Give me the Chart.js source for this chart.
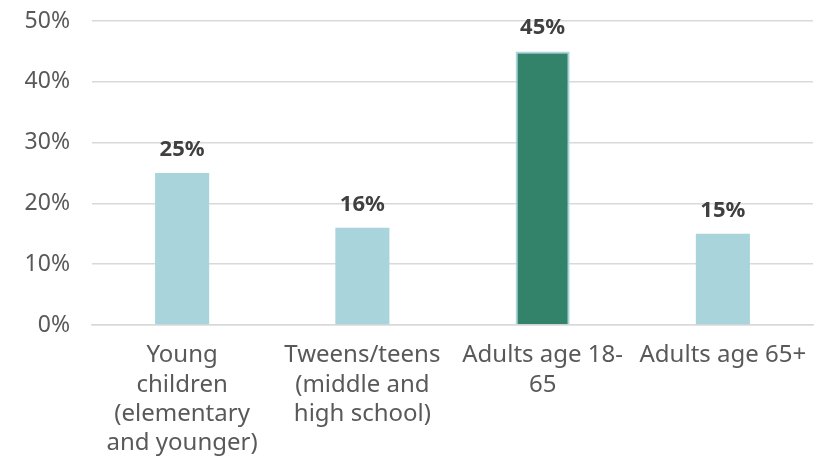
<!DOCTYPE html>
<html>
<head>
<meta charset="utf-8">
<script src="https://cdn.jsdelivr.net/npm/chart.js@4"></script>
<style>
  html, body { margin: 0; padding: 0; background: #fff; }
  #wrap { width: 831px; height: 457px; }
</style>
</head>
<body>
<div id="wrap"><canvas id="my-chart"></canvas></div>
<script>
// data
var categories = [
  ['Young', 'children', '(elementary', 'and younger)'],
  ['Tweens/teens', '(middle and', 'high school)'],
  ['Adults age 18-', '65'],
  ['Adults age 65+']
];
var shares = [25, 16, 45, 15];
var barColors = ['#A9D4DB', '#A9D4DB', '#33836A', '#A9D4DB'];
var yTicks = [0, 10, 20, 30, 40, 50];

// value labels above the bars
var valueLabels = {
  id: 'valueLabels',
  afterDatasetsDraw: function (chart) {
    var ctx = chart.ctx;
    var meta = chart.getDatasetMeta(0);
    ctx.save();
    ctx.font = 'bold 22px "Noto Sans"';
    ctx.fillStyle = '#404040';
    ctx.textAlign = 'center';
    ctx.textBaseline = 'alphabetic';
    meta.data.forEach(function (bar, i) {
      ctx.fillText(shares[i] + '%', bar.x, bar.y - 17);
    });
    ctx.restore();
  }
};

var chart1 = document.getElementById('my-chart').getContext('2d');
var myChart = new Chart(chart1, {
  type: 'bar',
  data: {
    labels: categories,
    datasets: [{
      data: shares,
      backgroundColor: barColors,
      borderColor: '#A9D4DB',
      borderWidth: [0, 0, 2, 0],
      barPercentage: 0.3,
      categoryPercentage: 1
    }]
  },
  options: {
    responsive: true,
    maintainAspectRatio: false,
    animation: false,
    layout: { padding: { top: 21, right: 18, left: 0, bottom: 0 } },
    plugins: {
      legend: { display: false },
      tooltip: { enabled: false }
    },
    scales: {
      x: {
        grid: { display: false, drawTicks: false },
        border: { display: true, color: '#D9D9D9', width: 1.5 },
        ticks: {
          color: '#595959',
          font: { family: '"Noto Sans"', size: 24, lineHeight: 1.22 },
          padding: 16,
          maxRotation: 0,
          autoSkip: false
        },
        afterFit: function (scale) { scale.height = 132; }
      },
      y: {
        min: 0,
        max: 50,
        afterBuildTicks: function (scale) {
          scale.ticks = yTicks.map(function (v) { return { value: v }; });
        },
        grid: { color: '#D9D9D9', lineWidth: 1.5, drawTicks: false },
        border: { display: false },
        ticks: {
          color: '#595959',
          font: { family: '"Noto Sans"', size: 23 },
          padding: 22,
          callback: function (v) { return v + '%'; }
        },
        afterFit: function (scale) {
          scale.width = 92;
          scale.paddingTop = 0;
          scale.paddingBottom = 0;
        }
      }
    }
  },
  plugins: [valueLabels]
});
</script>
</body>
</html>
